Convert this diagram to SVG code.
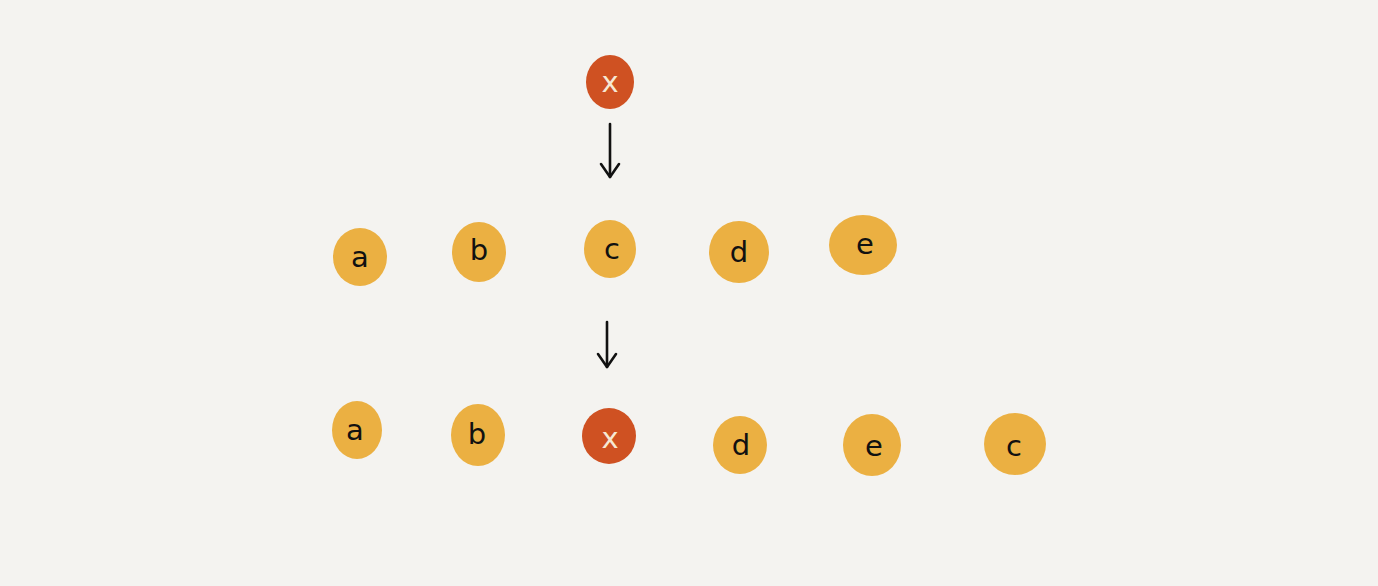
<svg xmlns="http://www.w3.org/2000/svg" width="1378" height="586" viewBox="0 0 1378 586">
<defs>
<style>
.y{fill:#ebb042}
.r{fill:#cf5122}
.t{font-family:"DejaVu Sans","Liberation Sans",sans-serif;font-size:29px;text-anchor:middle;dominant-baseline:central;fill:#111}
.tr{fill:#f6e8d4}
.c{stroke:#111;stroke-width:2.6;fill:none;stroke-linecap:round;stroke-linejoin:round}
</style>
</defs>
<rect width="1378" height="586" fill="#f4f3f0"/>
<g id="connectors">
<path class="c" d="M610,124 L610,177"/>
<path class="c" d="M601,164 L610,177 L619,164"/>
<path class="c" d="M607,322 L607,367"/>
<path class="c" d="M598,354 L607,367 L616,354"/>
</g>
<g id="node-x-top"><ellipse class="r" cx="610" cy="82" rx="24" ry="27"/><text class="t tr" x="610" y="82">x</text></g>
<g id="node-a1"><ellipse class="y" cx="360" cy="257" rx="27" ry="29"/><text class="t" x="360" y="257">a</text></g>
<g id="node-b1"><ellipse class="y" cx="479" cy="252" rx="27" ry="30"/><text class="t" x="479" y="250">b</text></g>
<g id="node-c1"><ellipse class="y" cx="610" cy="249" rx="26" ry="29"/><text class="t" x="612" y="249">c</text></g>
<g id="node-d1"><ellipse class="y" cx="739" cy="252" rx="30" ry="31"/><text class="t" x="739" y="252">d</text></g>
<g id="node-e1"><ellipse class="y" cx="863" cy="245" rx="34" ry="30"/><text class="t" x="865" y="244">e</text></g>
<g id="node-a2"><ellipse class="y" cx="357" cy="430" rx="25" ry="29"/><text class="t" x="355" y="430">a</text></g>
<g id="node-b2"><ellipse class="y" cx="478" cy="435" rx="27" ry="31"/><text class="t" x="477" y="434">b</text></g>
<g id="node-x2"><ellipse class="r" cx="609" cy="436" rx="27" ry="28"/><text class="t tr" x="610" y="438">x</text></g>
<g id="node-d2"><ellipse class="y" cx="740" cy="445" rx="27" ry="29"/><text class="t" x="741" y="445">d</text></g>
<g id="node-e2"><ellipse class="y" cx="872" cy="445" rx="29" ry="31"/><text class="t" x="874" y="446">e</text></g>
<g id="node-c2"><ellipse class="y" cx="1015" cy="444" rx="31" ry="31"/><text class="t" x="1014" y="446">c</text></g>
</svg>
